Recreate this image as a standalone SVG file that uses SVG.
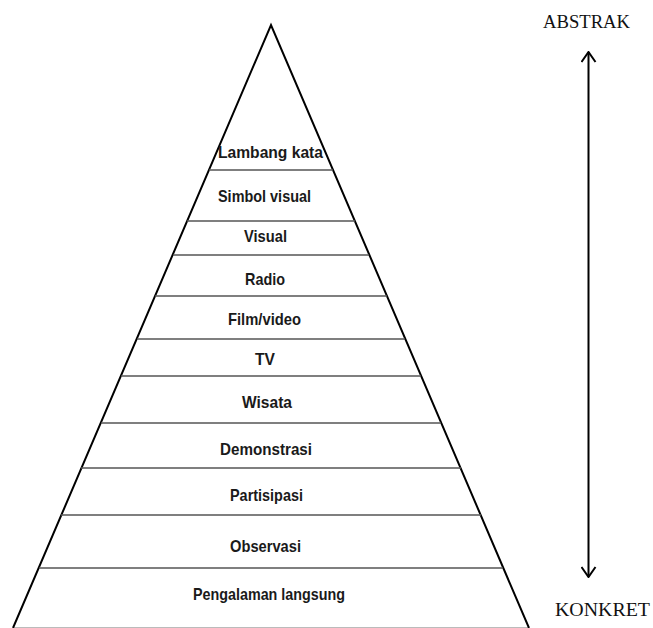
<svg xmlns="http://www.w3.org/2000/svg" width="653" height="628" viewBox="0 0 653 628">
<style>
.edge{fill:none;stroke:#000;stroke-width:2;stroke-linejoin:miter}
.sep{stroke:#555;stroke-width:1.6}
.lbl{font-family:"Liberation Sans",Arial,sans-serif;font-weight:bold;font-size:17px;fill:#1a1a1a;text-anchor:middle}
.side{font-family:"Liberation Serif","Times New Roman",serif;font-size:18px;fill:#111}
.arr{stroke:#000;stroke-width:2;fill:none}
</style>
<defs>
<marker id="head" viewBox="0 0 12 16" refX="11" refY="8" markerWidth="12" markerHeight="16" markerUnits="userSpaceOnUse" orient="auto-start-reverse">
<path d="M1,1 L11,8 L1,15" fill="none" stroke="#000" stroke-width="2"/>
</marker>
</defs>
<rect width="653" height="628" fill="#fff"/>
<g id="pyramid">
<line x1="13" y1="627.5" x2="529" y2="627.5" stroke="#bbb" stroke-width="1"/>
<polyline class="edge" points="13,628 271,25 529,628"/>
</g>
<g id="separators">
<line class="sep" x1="209" y1="170" x2="333" y2="170"/>
<line class="sep" x1="187" y1="221" x2="355" y2="221"/>
<line class="sep" x1="173" y1="255" x2="369" y2="255"/>
<line class="sep" x1="155" y1="296" x2="387" y2="296"/>
<line class="sep" x1="137" y1="339" x2="405" y2="339"/>
<line class="sep" x1="121" y1="376" x2="421" y2="376"/>
<line class="sep" x1="101" y1="423" x2="441" y2="423"/>
<line class="sep" x1="81" y1="468" x2="461" y2="468"/>
<line class="sep" x1="61" y1="515" x2="481" y2="515"/>
<line class="sep" x1="39" y1="568" x2="503" y2="568"/>
</g>
<g id="lambang-kata"><text class="lbl" x="270.5" y="158" textLength="105" lengthAdjust="spacingAndGlyphs">Lambang kata</text></g>
<g id="simbol-visual"><text class="lbl" x="264.5" y="202" textLength="93" lengthAdjust="spacingAndGlyphs">Simbol visual</text></g>
<g id="visual"><text class="lbl" x="265.5" y="242" textLength="43" lengthAdjust="spacingAndGlyphs">Visual</text></g>
<g id="radio"><text class="lbl" x="265" y="285" textLength="40" lengthAdjust="spacingAndGlyphs">Radio</text></g>
<g id="film-video"><text class="lbl" x="264.5" y="325" textLength="73" lengthAdjust="spacingAndGlyphs">Film/video</text></g>
<g id="tv"><text class="lbl" x="265" y="365" textLength="20" lengthAdjust="spacingAndGlyphs">TV</text></g>
<g id="wisata"><text class="lbl" x="267" y="408" textLength="50" lengthAdjust="spacingAndGlyphs">Wisata</text></g>
<g id="demonstrasi"><text class="lbl" x="266" y="455" textLength="92" lengthAdjust="spacingAndGlyphs">Demonstrasi</text></g>
<g id="partisipasi"><text class="lbl" x="266.5" y="501" textLength="73" lengthAdjust="spacingAndGlyphs">Partisipasi</text></g>
<g id="observasi"><text class="lbl" x="265.5" y="552" textLength="71" lengthAdjust="spacingAndGlyphs">Observasi</text></g>
<g id="pengalaman-langsung"><text class="lbl" x="269" y="600" textLength="152" lengthAdjust="spacingAndGlyphs">Pengalaman langsung</text></g>
<g id="abstrak"><text class="side" x="543" y="28" textLength="87" lengthAdjust="spacingAndGlyphs">ABSTRAK</text></g>
<g id="konkret"><text class="side" x="555" y="616" textLength="95" lengthAdjust="spacingAndGlyphs">KONKRET</text></g>
<g id="connectors">
<line class="arr" x1="588.5" y1="52" x2="588.5" y2="577" marker-start="url(#head)" marker-end="url(#head)"/>
</g>
</svg>
